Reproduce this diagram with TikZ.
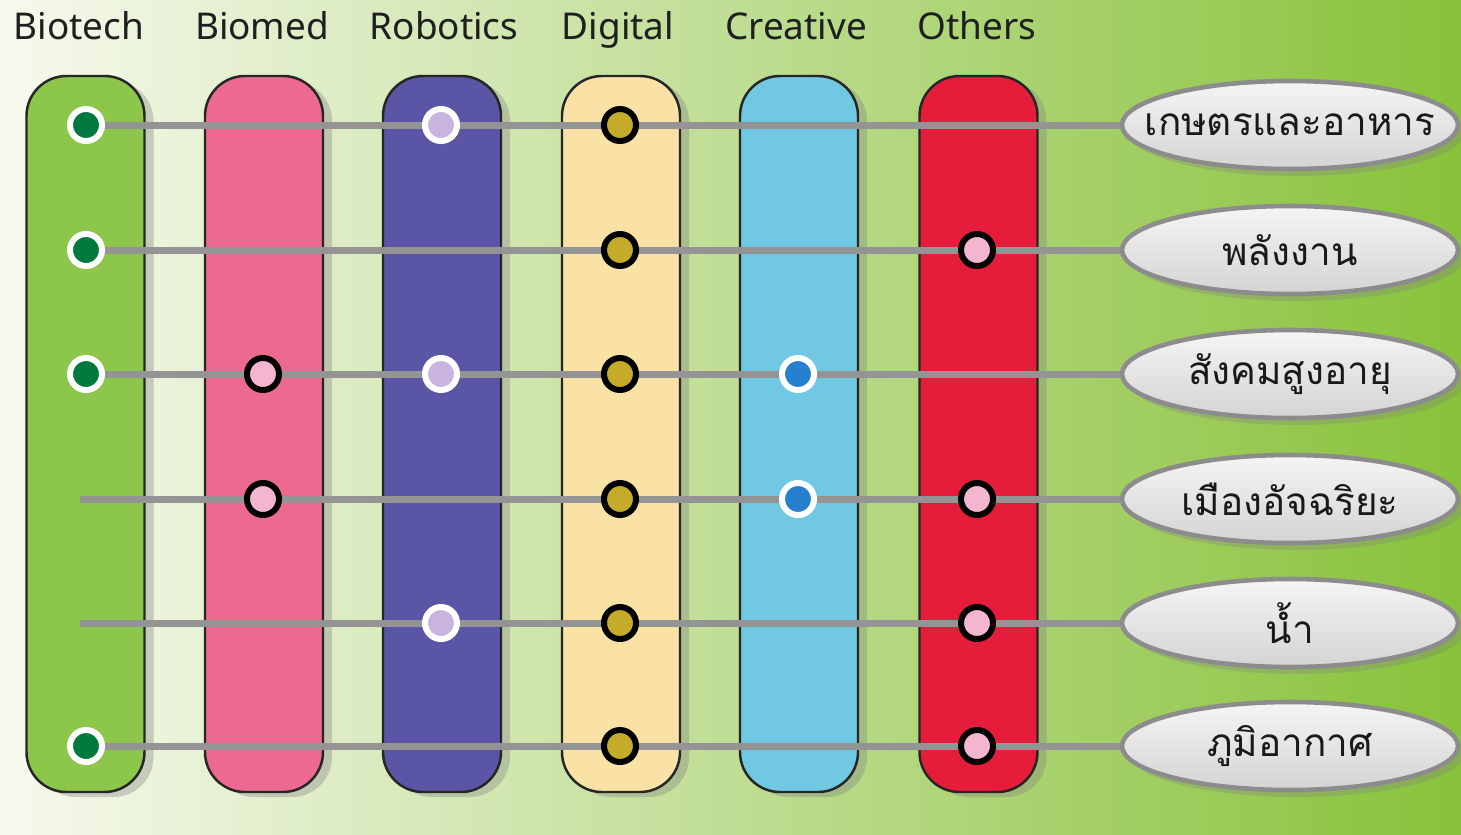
\documentclass[tikz,border=0pt]{standalone}
\usepackage{fontspec}
\setmainfont{Noto Sans}
\newfontfamily\thaifont[Script=Thai]{Loma}
\usepackage{tikz}
\usetikzlibrary{shapes.geometric, shadows}

\definecolor{bgleft}{RGB}{247,249,238}
\definecolor{bgright}{RGB}{136,194,58}
\definecolor{cBiotech}{RGB}{140,198,74}
\definecolor{cBiomed}{RGB}{236,106,143}
\definecolor{cRobotics}{RGB}{91,85,165}
\definecolor{cDigital}{RGB}{250,226,166}
\definecolor{cCreative}{RGB}{112,200,226}
\definecolor{cOthers}{RGB}{229,29,58}
\definecolor{dotgreen}{RGB}{0,120,62}
\definecolor{dotpink}{RGB}{244,182,206}
\definecolor{dotlilac}{RGB}{200,180,222}
\definecolor{dotolive}{RGB}{196,172,42}
\definecolor{dotblue}{RGB}{38,128,206}
\definecolor{linegray}{RGB}{148,148,148}

\pgfdeclarelayer{back}
\pgfdeclarelayer{mid}
\pgfsetlayers{back,mid,main}

\tikzset{
  bar/.style = {rectangle, rounded corners=0.4cm, minimum width=1.18cm,
    minimum height=7.16cm, draw=black!85, line width=0.7pt,
    drop shadow={shadow xshift=0.09cm, shadow yshift=-0.05cm, opacity=0.35}},
  head/.style = {anchor=base, font=\fontsize{10.5}{12}\selectfont, text=black!88},
  ringw/.style = {circle, minimum size=0.32cm, inner sep=0pt, draw=white, line width=0.06cm},
  ringb/.style = {circle, minimum size=0.32cm, inner sep=0pt, draw=black, line width=0.06cm},
  topic/.style = {ellipse, minimum width=3.36cm, minimum height=0.88cm,
    inner xsep=-0.3cm, inner ysep=0pt,
    draw=black!45, line width=1.3pt, top color=black!4, bottom color=black!17,
    font=\thaifont\fontsize{11}{13}\selectfont, text=black!90,
    drop shadow={shadow xshift=0.07cm, shadow yshift=-0.07cm, opacity=0.3}},
  link/.style = {draw=linegray, line width=0.07cm}
}

\begin{document}
\begin{tikzpicture}
\useasboundingbox (0, 0) rectangle (14.61, -8.34);

\begin{pgfonlayer}{back}
\fill[left color=bgleft, right color=bgright] (0, 0) rectangle (14.61, -8.34);

% columns
\node[bar, fill=cBiotech]  (biotech)  at (0.855, -4.34) {};
\node[bar, fill=cBiomed]   (biomed)   at (2.64, -4.34) {};
\node[bar, fill=cRobotics] (robotics) at (4.42, -4.34) {};
\node[bar, fill=cDigital]  (digital)  at (6.21, -4.34) {};
\node[bar, fill=cCreative] (creative) at (7.99, -4.34) {};
\node[bar, fill=cOthers]   (others)   at (9.785, -4.34) {};
\end{pgfonlayer}

% column titles
\node[head] (hbiotech)  at (0.79, -0.39) {Biotech};
\node[head] (hbiomed)   at (2.62, -0.39) {Biomed};
\node[head] (hrobotics) at (4.44, -0.39) {Robotics};
\node[head] (hdigital)  at (6.18, -0.39) {Digital};
\node[head] (hcreative) at (7.96, -0.39) {Creative};
\node[head] (hothers)   at (9.77, -0.39) {Others};

% topics
\node[topic] (agri)    at (12.90, -1.25) {เกษตรและอาหาร};
\node[topic] (energy)  at (12.90, -2.50) {พลังงาน};
\node[topic] (aging)   at (12.90, -3.74) {สังคมสูงอายุ};
\node[topic] (smart)   at (12.90, -4.99) {เมืองอัจฉริยะ};
\node[topic] (water)   at (12.90, -6.23) {น้ำ};
\node[topic] (climate) at (12.90, -7.46) {ภูมิอากาศ};

% dots
\node[ringw, fill=dotgreen]  (bt1) at (0.86, -1.25) {};
\node[ringw, fill=dotlilac]  (rb1) at (4.41, -1.25) {};
\node[ringb, fill=dotolive]  (dg1) at (6.20, -1.25) {};

\node[ringw, fill=dotgreen]  (bt2) at (0.86, -2.50) {};
\node[ringb, fill=dotolive]  (dg2) at (6.20, -2.50) {};
\node[ringb, fill=dotpink]   (ot2) at (9.77, -2.50) {};

\node[ringw, fill=dotgreen]  (bt3) at (0.86, -3.74) {};
\node[ringb, fill=dotpink]   (bm3) at (2.63, -3.74) {};
\node[ringw, fill=dotlilac]  (rb3) at (4.41, -3.74) {};
\node[ringb, fill=dotolive]  (dg3) at (6.20, -3.74) {};
\node[ringw, fill=dotblue]   (cr3) at (7.98, -3.74) {};

\node[ringb, fill=dotpink]   (bm4) at (2.63, -4.99) {};
\node[ringb, fill=dotolive]  (dg4) at (6.20, -4.99) {};
\node[ringw, fill=dotblue]   (cr4) at (7.98, -4.99) {};
\node[ringb, fill=dotpink]   (ot4) at (9.77, -4.99) {};

\node[ringw, fill=dotlilac]  (rb5) at (4.41, -6.23) {};
\node[ringb, fill=dotolive]  (dg5) at (6.20, -6.23) {};
\node[ringb, fill=dotpink]   (ot5) at (9.77, -6.23) {};

\node[ringw, fill=dotgreen]  (bt6) at (0.86, -7.46) {};
\node[ringb, fill=dotolive]  (dg6) at (6.20, -7.46) {};
\node[ringb, fill=dotpink]   (ot6) at (9.77, -7.46) {};

\coordinate (s4) at (0.80, -4.99);
\coordinate (s5) at (0.80, -6.23);

% rows
\begin{pgfonlayer}{mid}
\draw[link] (bt1.center) -- (agri.west);
\draw[link] (bt2.center) -- (energy.west);
\draw[link] (bt3.center) -- (aging.west);
\draw[link] (s4) -- (smart.west);
\draw[link] (s5) -- (water.west);
\draw[link] (bt6.center) -- (climate.west);
\end{pgfonlayer}
\end{tikzpicture}
\end{document}
